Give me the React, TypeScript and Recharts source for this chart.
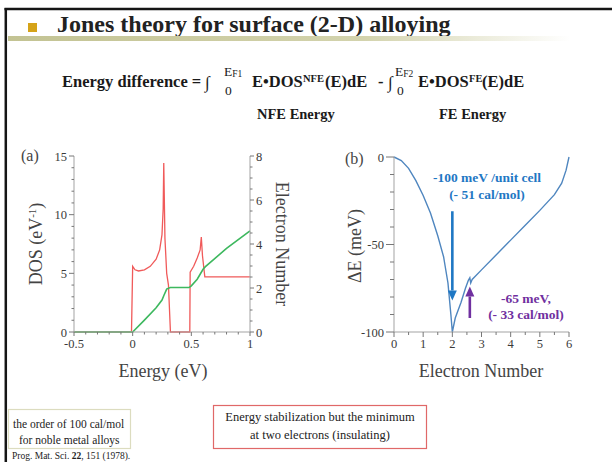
import { LineChart, Line, XAxis, YAxis, ReferenceLine } from 'recharts'

const SERIF = '"Liberation Serif", "DejaVu Serif", serif'

// (a) density of states (left axis) and integrated electron number (right axis)
const dosEnergy = [-0.5, -0.01, 0, 0.02, 0.05, 0.1, 0.15, 0.2, 0.23, 0.25, 0.26, 0.265, 0.275, 0.29, 0.305, 0.322, 0.487, 0.49, 0.52, 0.55, 0.575, 0.585, 0.595, 0.615, 1.0]
const dosValues = [0, 0, 5.6, 5.3, 5.2, 5.3, 5.6, 6.2, 7.0, 8.3, 10.5, 14.4, 8.0, 5.0, 4.0, 0, 0, 5.1, 5.6, 6.3, 7.0, 8.1, 6.5, 4.7, 4.7]
const countEnergy = [-0.5, 0, 0.1, 0.2, 0.25, 0.265, 0.29, 0.32, 0.48, 0.5, 0.55, 0.6, 0.62, 0.8, 1.0]
const countValues = [0, 0, 0.54, 1.1, 1.45, 1.65, 1.95, 2.02, 2.02, 2.1, 2.4, 2.85, 2.97, 3.8, 4.6]

// (b) NFE - FE energy difference vs electron number
const electronNumber = [0, 0.25, 0.5, 0.75, 1, 1.25, 1.5, 1.7, 1.75, 1.85, 1.95, 2, 2.1, 2.3, 2.45, 2.55, 2.6, 2.63, 2.68, 3, 3.5, 4, 4.5, 5, 5.5, 5.75, 5.9, 6]
const deltaE = [0, -2, -6.5, -13.5, -22, -32, -45, -57, -62, -72, -90, -100, -92, -83, -75, -70.5, -69, -72, -70, -64.5, -56, -47.5, -39, -30.5, -21.5, -15, -7.5, 0]

const energyTickLabels = ['-0.5', '0', '0.5', '1']
const dosTickLabels = ['0', '5', '10', '15']
const countTickLabels = ['0', '2', '4', '6', '8']
const electronTickLabels = ['0', '1', '2', '3', '4', '5', '6']
const deltaTickLabels = ['-100', '-50', '0']

const dosData = dosEnergy.map((e, i) => ({ e, dos: dosValues[i] }))
const countData = countEnergy.map((e, i) => ({ e, n: countValues[i] }))
const deltaData = electronNumber.map((n, i) => ({ n, dE: deltaE[i] }))

function range(start: number, stop: number, step: number) {
  const out: number[] = []
  const count = Math.round((stop - start) / step)
  for (let i = 0; i <= count; i++) out.push(Math.round((start + i * step) * 1000) / 1000)
  return out
}

const FRAME = '#a3a3a3'
const TICK = '#777'
const LABEL = '#3a3a3a'

// ticks drawn by hand so that minor ticks get no label and a shorter mark
function axisTick(side: 'bottom' | 'left' | 'right', labels: string[], majorLen: number, minorLen: number) {
  return (props: any) => {
    const { x, y, payload } = props
    const v = String(payload.value)
    const isMajor = labels.includes(v)
    const len = isMajor ? majorLen : minorLen
    if (side === 'bottom') {
      return (
        <g>
          <line x1={x} y1={y} x2={x} y2={y + len} stroke={TICK} strokeWidth={1} />
          {isMajor && (
            <text x={x} y={y + 16} textAnchor="middle" fontSize={12.5} fill={LABEL} fontFamily={SERIF}>{v}</text>
          )}
        </g>
      )
    }
    const dir = side === 'left' ? -1 : 1
    return (
      <g>
        <line x1={x} y1={y} x2={x + dir * len} y2={y} stroke={TICK} strokeWidth={1} />
        {isMajor && (
          <text x={x + dir * (majorLen + 2)} y={y + 4.5} textAnchor={side === 'left' ? 'end' : 'start'} fontSize={12.5} fill={LABEL} fontFamily={SERIF}>{v}</text>
        )}
      </g>
    )
  }
}

function Arrow(color: string, width: number) {
  return (props: any) => {
    const { x1, y1, x2, y2 } = props
    const dir = y2 > y1 ? 1 : -1
    const head = 10
    return (
      <g>
        <line x1={x1} y1={y1} x2={x2} y2={y2 - dir * head} stroke={color} strokeWidth={width} />
        <polygon points={`${x2 - 4.5},${y2 - dir * head} ${x2 + 4.5},${y2 - dir * head} ${x2},${y2}`} fill={color} />
      </g>
    )
  }
}

function DosPanel() {
  return (
    <LineChart width={300} height={252} margin={{ top: 26, right: 0, bottom: 0, left: 0 }}>
      <XAxis
        dataKey="e"
        type="number"
        domain={[-0.5, 1]}
        ticks={range(-0.5, 1, 0.1)}
        interval={0}
        height={50}
        tickSize={0}
        tickMargin={0}
        tickLine={false}
        axisLine={{ stroke: FRAME }}
        tick={axisTick('bottom', energyTickLabels, 4, 2.5)}
      />
      <XAxis xAxisId="top" orientation="top" type="number" domain={[-0.5, 1]} height={0} tick={false} tickLine={false} axisLine={{ stroke: FRAME }} />
      <YAxis
        yAxisId="dos"
        type="number"
        domain={[0, 15]}
        ticks={range(0, 15, 1)}
        interval={0}
        width={74}
        tickSize={0}
        tickMargin={0}
        tickLine={false}
        axisLine={{ stroke: FRAME }}
        tick={axisTick('left', dosTickLabels, 5, 2.5)}
      />
      <YAxis
        yAxisId="count"
        orientation="right"
        type="number"
        domain={[0, 8]}
        ticks={range(0, 8, 0.5)}
        interval={0}
        width={50}
        tickSize={0}
        tickMargin={0}
        tickLine={false}
        axisLine={{ stroke: FRAME }}
        tick={axisTick('right', countTickLabels, 4, 2.5)}
      />
      <Line yAxisId="dos" data={dosData} dataKey="dos" type="linear" stroke="#f05a5a" strokeWidth={1.3} dot={false} isAnimationActive={false} />
      <Line yAxisId="count" data={countData} dataKey="n" type="linear" stroke="#3db85e" strokeWidth={1.6} dot={false} isAnimationActive={false} />
    </LineChart>
  )
}

function DeltaPanel() {
  return (
    <LineChart width={260} height={252} data={deltaData} margin={{ top: 27, right: 11, bottom: 0, left: 0 }}>
      <XAxis
        dataKey="n"
        type="number"
        domain={[0, 6]}
        ticks={range(0, 6, 0.5)}
        interval={0}
        height={50}
        tickSize={0}
        tickMargin={0}
        tickLine={false}
        axisLine={{ stroke: FRAME }}
        tick={axisTick('bottom', electronTickLabels, 5, 3)}
      />
      <XAxis xAxisId="top" orientation="top" type="number" domain={[0, 6]} height={0} tick={false} tickLine={false} axisLine={{ stroke: FRAME }} />
      <YAxis
        type="number"
        domain={[-100, 0]}
        ticks={range(-100, 0, 10)}
        interval={0}
        width={74}
        tickSize={0}
        tickMargin={0}
        tickLine={false}
        axisLine={{ stroke: FRAME }}
        tick={axisTick('left', deltaTickLabels, 8, 4)}
      />
      <YAxis yAxisId="frame" orientation="right" type="number" domain={[0, 1]} width={0} tick={false} tickLine={false} axisLine={{ stroke: FRAME }} />
      <Line dataKey="dE" type="linear" stroke="#4f86bf" strokeWidth={1.4} dot={false} isAnimationActive={false} />
      <ReferenceLine segment={[{ x: 2, y: -31 }, { x: 2, y: -82 }]} shape={Arrow('#1f78c4', 2.6)} />
      <ReferenceLine segment={[{ x: 2.6, y: -92 }, { x: 2.6, y: -74 }]} shape={Arrow('#7030a0', 2.6)} />
    </LineChart>
  )
}

export default function App() {
  return (
    <div style={{ position: 'absolute', left: 0, top: 0, width: 612, height: 462, background: '#fff', overflow: 'hidden', fontFamily: SERIF }}>
      <svg width={612} height={462} style={{ position: 'absolute', left: 0, top: 0 }} fontFamily={SERIF}>
        <defs>
          <linearGradient id="titleRule" x1="0" x2="1" y1="0" y2="0">
            <stop offset="0" stopColor="#c3c393" />
            <stop offset="0.6" stopColor="#d3d3ad" />
            <stop offset="0.95" stopColor="#ffffff" />
          </linearGradient>
        </defs>
        {/* slide frame */}
        <line x1={4.5} y1={9} x2={612} y2={9} stroke="#151515" strokeWidth={2.5} />
        <line x1={5.8} y1={8} x2={5.8} y2={462} stroke="#151515" strokeWidth={2.5} />

        {/* title */}
        <rect x={28} y={23} width={9} height={9} fill="#d5a318" />
        <text x={57} y={32} fontSize={24} fontWeight="bold" fill="#222">Jones theory for surface (2-D) alloying</text>
        <rect x={8} y={36} width={592} height={5} fill="url(#titleRule)" />

        {/* formula */}
        <g fill="#1a1a1a" fontWeight="bold" fontSize={16.5}>
          <text x={62} y={87}>Energy difference =</text>
          <text x={205} y={88} fontWeight="normal" fontSize={17}>∫</text>
          <text x={224} y={76} fontWeight="normal" fontSize={13.5}>E<tspan fontSize={9.5} dy={1}>F1</tspan></text>
          <text x={225} y={95} fontWeight="normal" fontSize={13.5}>0</text>
          <text x={252} y={87}>E•DOS</text>
          <text x={303} y={82} fontSize={10.5}>NFE</text>
          <text x={325} y={87}>(E)dE</text>
          <text x={378} y={87}>-</text>
          <text x={388} y={88} fontWeight="normal" fontSize={17}>∫</text>
          <text x={395} y={76} fontWeight="normal" fontSize={13.5}>E<tspan fontSize={9.5} dy={1}>F2</tspan></text>
          <text x={397} y={95} fontWeight="normal" fontSize={13.5}>0</text>
          <text x={418} y={87}>E•DOS</text>
          <text x={469} y={82} fontSize={10.5}>FE</text>
          <text x={482} y={87}>(E)dE</text>
          <text x={257} y={119} fontSize={14.5}>NFE Energy</text>
          <text x={439} y={119} fontSize={14.5}>FE Energy</text>
        </g>

        {/* panel (a) labels */}
        <g fill="#444" fontSize={18}>
          <text x={21} y={161} fontSize={16}>(a)</text>
          <text x={0} y={0} textAnchor="middle" transform="translate(42,244) rotate(-90)">
            DOS (eV<tspan fontSize={11} dy={-6}>-1</tspan><tspan dy={6}>)</tspan>
          </text>
          <text x={0} y={0} textAnchor="middle" transform="translate(276,244) rotate(90)">Electron Number</text>
          <text x={163} y={377} textAnchor="middle">Energy (eV)</text>
        </g>

        {/* panel (b) labels */}
        <g fill="#444" fontSize={18}>
          <text x={345} y={164} fontSize={16}>(b)</text>
          <text x={0} y={0} textAnchor="middle" transform="translate(361,246) rotate(-90)">ΔE (meV)</text>
          <text x={481} y={377} textAnchor="middle">Electron Number</text>
        </g>
        <g fontWeight="bold" fontSize={13.5} textAnchor="middle">
          <text x={487} y={182} fill="#1f78c4">-100 meV /unit cell</text>
          <text x={487} y={199} fill="#1f78c4">(- 51 cal/mol)</text>
          <text x={526} y={303} fill="#7030a0">-65 meV,</text>
          <text x={526} y={319} fill="#7030a0">(- 33 cal/mol)</text>
        </g>

        {/* notes */}
        <rect x={8.5} y={409.5} width={122} height={39} fill="none" stroke="#dcdcbf" strokeWidth={1.2} />
        <text x={13} y={428} fontSize={11.5} fill="#222">the order of 100 cal/mol</text>
        <text x={19} y={444} fontSize={11.5} fill="#222">for noble metal alloys</text>
        <text x={12} y={459} fontSize={9.5} fill="#222">
          Prog. Mat. Sci. <tspan fontWeight="bold">22</tspan>, 151 (1978).
        </text>
        <rect x={213.5} y={405.5} width={213} height={43} fill="none" stroke="#e06868" strokeWidth={1.2} />
        <text x={320} y={421} fontSize={12.5} textAnchor="middle" fill="#222">Energy stabilization but the minimum</text>
        <text x={320} y={439} fontSize={12.5} textAnchor="middle" fill="#222">at two electrons (insulating)</text>
      </svg>

      <div style={{ position: 'absolute', left: 0, top: 130 }}>
        <DosPanel />
      </div>
      <div style={{ position: 'absolute', left: 320, top: 130 }}>
        <DeltaPanel />
      </div>
    </div>
  )
}
